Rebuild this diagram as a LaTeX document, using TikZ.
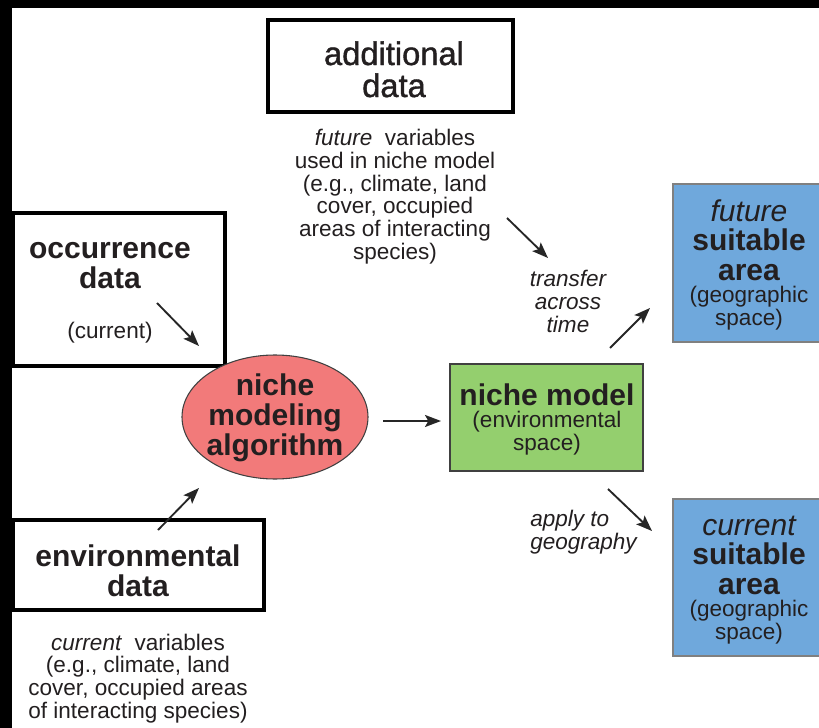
\documentclass[tikz,border=0pt]{standalone}
\usepackage{fontspec}
\setmainfont{Liberation Sans}
\newfontfamily\dgAddFam[FakeBold=1.2]{Liberation Sans}
\usetikzlibrary{arrows.meta,shapes.geometric}
\definecolor{txt}{RGB}{35,31,32}
\definecolor{salmonfill}{RGB}{242,122,122}
\definecolor{greenfill}{RGB}{148,207,110}
\definecolor{bluefill}{RGB}{111,168,220}
\newcommand\dgBig{\fontsize{22.5}{22.5}\selectfont}
\newcommand\dgAdd{\dgAddFam\fontsize{24.5}{24}\selectfont}
\newcommand\dgSmall{\fontsize{16.9}{17}\selectfont}
\begin{document}
\begin{tikzpicture}[x=0.75pt,y=-0.75pt,
  thickbox/.style={draw=black, line width=3.4pt, fill=white, rectangle, inner sep=0pt},
  bluebox/.style={draw=black!50, line width=1.2pt, fill=bluefill, rectangle, inner sep=0pt, minimum width=114.75pt},
  arr/.style={draw=black!85, line width=1.4pt, -{Stealth[length=12pt,width=9pt,inset=2.5pt]}},
  lbl/.style={text=txt, align=center, inner sep=0pt, anchor=base},
  big/.style={lbl, font=\dgBig\bfseries},
  small/.style={lbl, font=\dgSmall},
]
\useasboundingbox (0,0) rectangle (819,728);
\fill[white] (0,0) rectangle (819,728);
\fill[black] (0,0) rectangle (819,8);
\fill[black] (0,0) rectangle (12,728);

% boxes
\node[thickbox, minimum width=183.75pt, minimum height=69pt] (add) at (390.5,66) {};
\node[thickbox, minimum width=159pt, minimum height=114.75pt] (occ) at (119,289.5) {};
\node[thickbox, minimum width=188.25pt, minimum height=67.5pt] (env) at (138.5,565) {};
\node[ellipse, draw=black!75, line width=0.8pt, fill=salmonfill, minimum width=139.5pt, minimum height=93pt, inner sep=0pt] (alg) at (275,417) {};
\node[rectangle, draw=black!75, line width=1.2pt, fill=greenfill, minimum width=144.75pt, minimum height=80.25pt, inner sep=0pt] (model) at (546.5,417.5) {};
\node[bluebox, minimum height=118.5pt] (fut) at (749.5,263) {};
\node[bluebox, minimum height=117.75pt] (cur) at (749.5,577.5) {};

% texts (anchor=base is the baseline of the last line)
\node[lbl, font=\dgAdd] (addtxt) at (394,97) {additional\\data};
\node[big] (occtxt) at (110,288) {occurrence\\data};
\node[small] (occcur) at (110,338) {(current)};
\node[big] (algtxt) at (275,455) {niche\\modeling\\algorithm};
\node[big] (modeltxt) at (547,405) {niche model};
\node[small] (modelsub) at (547,450) {(environmental\\space)};
\node[lbl, font=\dgBig\itshape] (futa) at (749,221) {future};
\node[big] (futb) at (749,280) {suitable\\area};
\node[small] (futc) at (749,325) {(geographic\\space)};
\node[lbl, font=\dgBig\itshape] (cura) at (749,535) {current};
\node[big] (curb) at (749,594) {suitable\\area};
\node[small] (curc) at (749,639) {(geographic\\space)};
\node[big] (envtxt) at (138,596) {environmental\\data};
\node[small] (envvars) at (138,718) {\textit{current}~ variables\\(e.g., climate, land\\cover, occupied areas\\of interacting species)};
\node[small] (addvars) at (395,259) {\textit{future}~ variables\\used in niche model\\(e.g., climate, land\\cover, occupied\\areas of interacting\\species)};
\node[small, font=\dgSmall\itshape] (transfer) at (568,332) {transfer\\across\\time};
\node[small, font=\dgSmall\itshape, align=left, anchor=base west] (apply) at (530,549) {apply to\\geography};

% arrow end points
\coordinate (o1) at (157,303); \coordinate (o2) at (199,346);
\coordinate (e1) at (158,530); \coordinate (e2) at (199,488);
\coordinate (m1) at (383,421); \coordinate (m2) at (441,421);
\coordinate (a1) at (507,218); \coordinate (a2) at (548,258);
\coordinate (t1) at (610,348); \coordinate (t2) at (650,308);
\coordinate (p1) at (608,489); \coordinate (p2) at (652,531);
\draw[arr] (o1) -- (o2);
\draw[arr] (e1) -- (e2);
\draw[arr] (m1) -- (m2);
\draw[arr] (a1) -- (a2);
\draw[arr] (t1) -- (t2);
\draw[arr] (p1) -- (p2);
\end{tikzpicture}
\end{document}
